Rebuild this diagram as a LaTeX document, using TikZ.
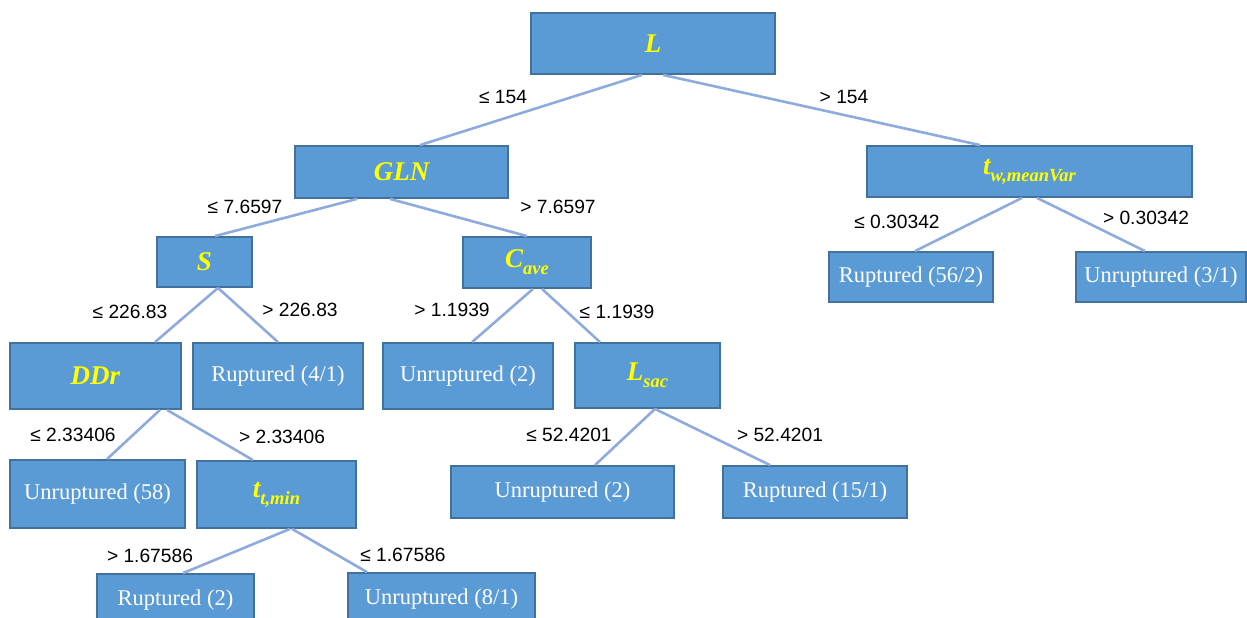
\documentclass[tikz,border=0pt]{standalone}
\usepackage{fontspec}
\setmainfont{Liberation Serif}
\newfontfamily\lblfont{Liberation Sans}
\definecolor{boxfill}{HTML}{5B9BD5}
\definecolor{boxline}{HTML}{41719C}
\definecolor{connblue}{HTML}{8FAADC}
\definecolor{varyellow}{HTML}{FFFF00}
\newcommand\varsub[2]{#1\raisebox{-7pt}{\fontsize{18.5}{20}\selectfont #2}}
\newcommand\edgeline[4]{\draw[conn] ([xshift=#2]#1.south) -- ([xshift=#4]#3.north);}
\begin{document}
\begin{tikzpicture}[x=1pt,y=-1pt,
  tbox/.style={draw=boxline,line width=1.8pt,fill=boxfill,inner sep=0pt,
    text=white,font=\fontsize{22.5}{24}\selectfont},
  vbox/.style={tbox,text=varyellow,font=\fontsize{27}{29}\selectfont\bfseries\itshape},
  conn/.style={draw=connblue,line width=2.6pt},
  lbl/.style={inner sep=0pt,font=\lblfont\fontsize{19.2}{21}\selectfont}]
\useasboundingbox (0,0) rectangle (1247,618);
% nodes
\node[vbox,minimum width=244pt,minimum height=61pt] (L) at (653,43.5) {L};
\node[vbox,minimum width=213pt,minimum height=52pt] (GLN) at (401.5,172) {GLN};
\node[vbox,minimum width=325pt,minimum height=51pt] (TW) at (1029.5,171.5) {\varsub{t}{w,meanVar}};
\node[vbox,minimum width=95pt,minimum height=50pt] (S) at (204.5,262) {S};
\node[vbox,minimum width=128pt,minimum height=51pt] (CAVE) at (527,262.5) {\varsub{C}{ave}};
\node[tbox,minimum width=164pt,minimum height=50pt] (R56) at (911,277) {Ruptured (56/2)};
\node[tbox,minimum width=170pt,minimum height=50pt] (U31) at (1161,277) {Unruptured (3/1)};
\node[vbox,minimum width=171pt,minimum height=66pt] (DDR) at (95.5,376) {DDr};
\node[tbox,minimum width=170pt,minimum height=66pt] (R41) at (278,376) {Ruptured (4/1)};
\node[tbox,minimum width=170pt,minimum height=66pt] (U2a) at (468,376) {Unruptured (2)};
\node[vbox,minimum width=145pt,minimum height=65pt] (LSAC) at (647.5,375.5) {\varsub{L}{sac}};
\node[tbox,minimum width=175pt,minimum height=68pt] (U58) at (97.5,494) {Unruptured (58)};
\node[vbox,minimum width=159pt,minimum height=67pt] (TT) at (276.5,494.5) {\varsub{t}{t,min}};
\node[tbox,minimum width=223pt,minimum height=52pt] (U2b) at (562.5,492) {Unruptured (2)};
\node[tbox,minimum width=184pt,minimum height=52pt] (R151) at (815,492) {Ruptured (15/1)};
\node[tbox,minimum width=157pt,minimum height=52pt] (R2) at (175.5,600) {Ruptured (2)};
\node[tbox,minimum width=187pt,minimum height=52pt] (U81) at (441.5,599) {Unruptured (8/1)};
% connectors
\begin{scope}[on background layer/.style={}]
\end{scope}
\edgeline{L}{-11pt}{GLN}{18.5pt}
\edgeline{L}{10pt}{TW}{-49.5pt}
\edgeline{GLN}{-44.5pt}{S}{10.5pt}
\edgeline{GLN}{-11.5pt}{CAVE}{0pt}
\edgeline{TW}{-7.5pt}{R56}{4pt}
\edgeline{TW}{7.5pt}{U31}{-16pt}
\edgeline{S}{13.5pt}{DDR}{59.5pt}
\edgeline{S}{13.5pt}{R41}{0pt}
\edgeline{CAVE}{6pt}{U2a}{4pt}
\edgeline{CAVE}{15pt}{LSAC}{-47.5pt}
\edgeline{DDR}{64.5pt}{U58}{9.5pt}
\edgeline{DDR}{71.5pt}{TT}{-23.5pt}
\edgeline{LSAC}{7.5pt}{U2b}{32.5pt}
\edgeline{LSAC}{7.5pt}{R151}{-45pt}
\edgeline{TT}{13.5pt}{R2}{7.5pt}
\edgeline{TT}{15.5pt}{U81}{-74.5pt}
% labels
\node[lbl] (l1) at (503,97) {≤ 154};
\node[lbl] (l2) at (844,97) {> 154};
\node[lbl] (l3) at (245,207) {≤ 7.6597};
\node[lbl] (l4) at (558,207) {> 7.6597};
\node[lbl] (l5) at (897,222) {≤ 0.30342};
\node[lbl] (l6) at (1146,218) {> 0.30342};
\node[lbl] (l7) at (130,312) {≤ 226.83};
\node[lbl] (l8) at (300,310) {> 226.83};
\node[lbl] (l9) at (452,310) {> 1.1939};
\node[lbl] (l10) at (617,312) {≤ 1.1939};
\node[lbl] (l11) at (73,435) {≤ 2.33406};
\node[lbl] (l12) at (282,437) {> 2.33406};
\node[lbl] (l13) at (569,435) {≤ 52.4201};
\node[lbl] (l14) at (780,435) {> 52.4201};
\node[lbl] (l15) at (150,556) {> 1.67586};
\node[lbl] (l16) at (403,555) {≤ 1.67586};
\end{tikzpicture}
\end{document}
